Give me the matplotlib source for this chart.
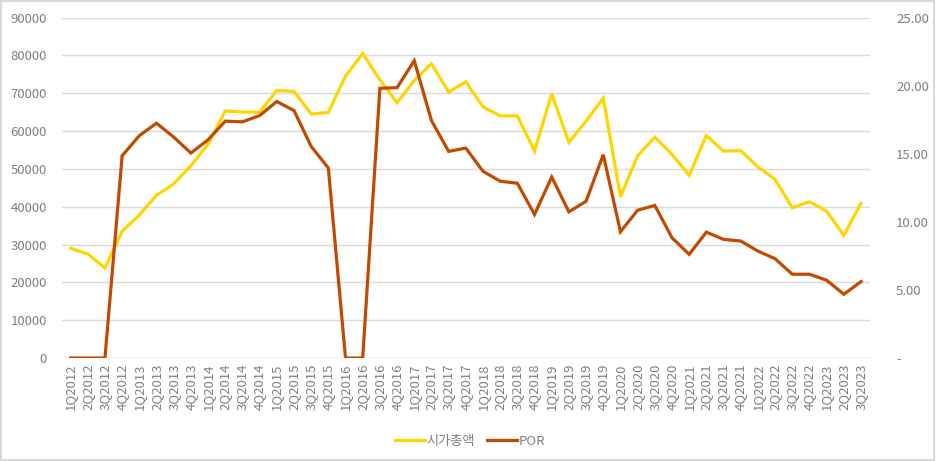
import matplotlib
matplotlib.use("Agg")
import matplotlib.pyplot as plt
from matplotlib.patches import Rectangle
import numpy as np

plt.rcParams['font.family'] = ['Noto Sans CJK KR', 'DejaVu Sans']

quarters = [f"{q}Q{y}" for y in range(2012, 2024) for q in range(1, 5)][:47]

market_cap = [29000, 27500, 23800, 33500, 37800, 43000, 46000, 50800, 56500, 65300,
              65000, 65000, 70700, 70500, 64500, 64900, 74500, 80500, 73500, 67500,
              73300, 77800, 70300, 73000, 66400, 64000, 64000, 54700, 69800, 57000,
              62600, 68700, 42600, 53400, 58400, 53800, 48300, 58800, 54700, 54800,
              50500, 47200, 39700, 41300, 38800, 32400, 40900]

por = [0, 0, 0, 14.85, 16.32, 17.24, 16.22, 15.05, 16.02, 17.39,
       17.34, 17.80, 18.83, 18.17, 15.54, 13.95, 0, 0, 19.80, 19.85,
       21.83, 17.44, 15.17, 15.41, 13.71, 12.98, 12.83, 10.54, 13.29, 10.73,
       11.51, 14.93, 9.27, 10.85, 11.20, 8.83, 7.61, 9.24, 8.71, 8.59,
       7.85, 7.29, 6.15, 6.15, 5.71, 4.68, 5.61]

left_ticks = list(range(0, 90001, 10000))
right_ticks = [0, 5, 10, 15, 20, 25]
right_labels = ['-', '5.00', '10.00', '15.00', '20.00', '25.00']

txt = '#7f7f7f'

fig = plt.figure(figsize=(9.36, 4.61), dpi=100)
fig.patches.append(Rectangle((0.001, 0.002), 0.997, 0.995, transform=fig.transFigure,
                             fill=False, edgecolor='#d9d9d9', linewidth=1.5))
ax = fig.add_axes([62/936, 1 - 358/461, (869.6 - 62)/936, (358 - 17.5)/461])
ax2 = ax.twinx()

x = np.arange(len(quarters))
l1, = ax.plot(x, market_cap, color='#FFD400', lw=2.3, label='시가총액', solid_joinstyle='miter')
l2, = ax2.plot(x, por, color='#C04A00', lw=2.3, label='POR', solid_joinstyle='miter')

ax.set_xlim(-0.5, len(quarters) - 0.5)
ax.set_ylim(0, 90000)
ax2.set_ylim(0, 25)
ax.set_yticks(left_ticks)
ax.set_yticklabels([str(v) for v in left_ticks])
ax2.set_yticks(right_ticks)
ax2.set_yticklabels(right_labels)
ax.set_xticks(x)
ax.set_xticklabels(quarters, rotation=90)

ax.grid(axis='y', color='#d9d9d9', lw=1)
ax.set_axisbelow(True)
for a in (ax, ax2):
    for s in ['top', 'left', 'right', 'bottom']:
        a.spines[s].set_visible(False)
ax.axhline(0, color='#d0d0d0', lw=1, zorder=1)

ax.tick_params(axis='y', length=0, labelsize=9.5, labelcolor=txt, pad=11)
ax2.tick_params(axis='y', length=0, labelsize=9.5, labelcolor=txt, pad=19)
ax.tick_params(axis='x', length=0, labelsize=9.5, labelcolor=txt, pad=4)

fig.legend(handles=[l1, l2], loc='center', bbox_to_anchor=(470/936, 1 - 441/461),
           ncol=2, frameon=False, fontsize=9.5, handlelength=2.3, columnspacing=0.9,
           handletextpad=0.1, labelcolor=txt)

fig.savefig('out.png', dpi=100)
